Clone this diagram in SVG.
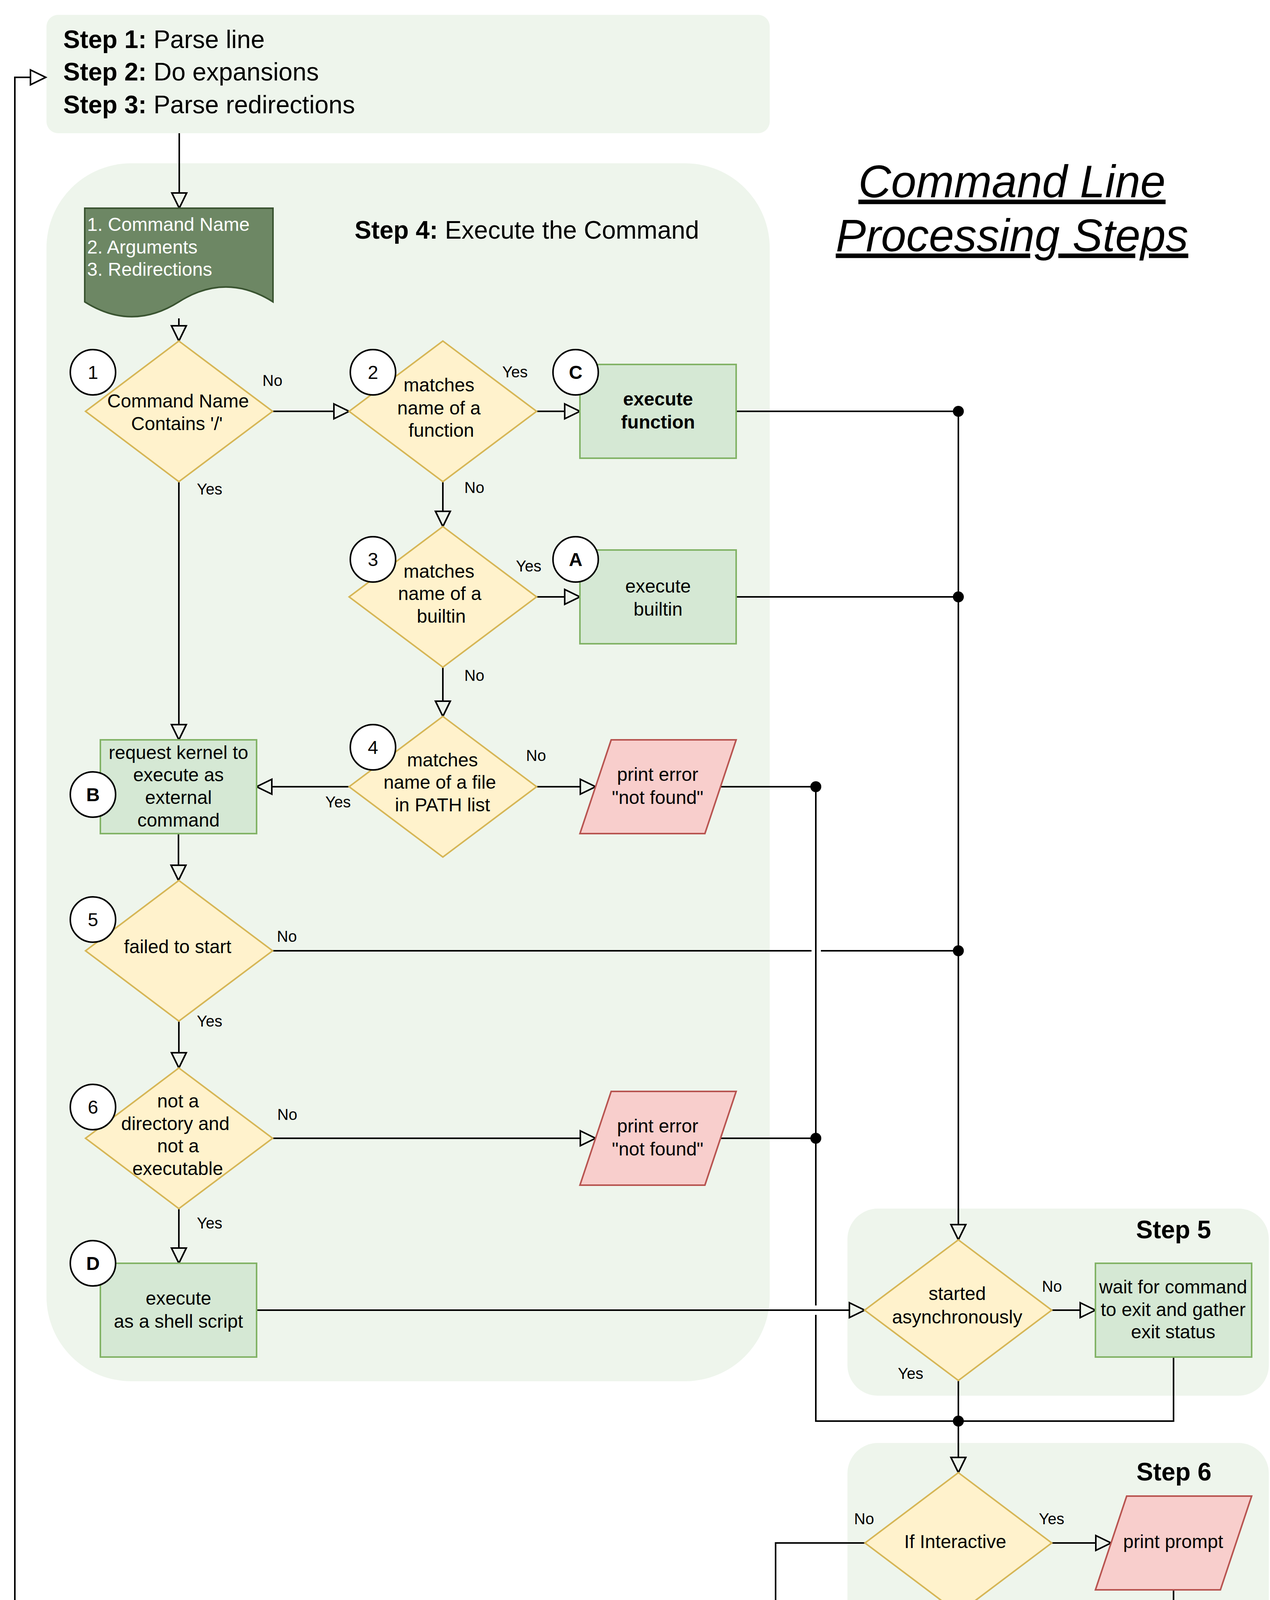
<svg xmlns="http://www.w3.org/2000/svg" width="3252" height="4640" viewBox="0 0 3252 4640">
<style>
text{font-family:"Liberation Sans",Arial,Helvetica,sans-serif;fill:#000}
.n{font-size:48px;text-anchor:middle}
.b{font-weight:bold}
.lbl{font-size:40px}
.step{font-size:64px}
.cont{fill:#eef5ec;stroke:none}
.dia{fill:#fff2cc;stroke:#d6b656;stroke-width:4}
.grn{fill:#d5e8d4;stroke:#82b366;stroke-width:4}
.red{fill:#f8cecc;stroke:#b85450;stroke-width:4}
.cir{fill:#fff;stroke:#000;stroke-width:4}
.e{fill:none;stroke:#000;stroke-width:4}
.ea{fill:none;stroke:#000;stroke-width:4;marker-end:url(#arr)}
.dot{fill:#000}
</style>
<defs>
<marker id="arr" markerUnits="userSpaceOnUse" markerWidth="52" markerHeight="52" viewBox="-4 -26 52 52" refX="0" refY="0" orient="auto">
<path d="M0,-19 L39,0 L0,19 Z" fill="none" stroke="#000" stroke-width="4"/>
</marker>
</defs>
<rect width="3252" height="4640" fill="#fff"/>

<g id="containers">
<rect id="step123" class="cont" x="119" y="38" width="1852" height="303" rx="30" ry="30"/>
<rect id="step4" class="cont" x="119" y="418" width="1852" height="3118" rx="217" ry="217"/>
<rect id="step5" class="cont" x="2170" y="3094" width="1079" height="479" rx="78" ry="78"/>
<rect id="step6" class="cont" x="2170" y="3694" width="1079" height="478" rx="78" ry="78"/>
</g>

<g id="headings">
<text class="step" x="162" y="123"><tspan class="b">Step 1:</tspan> Parse line</text>
<text class="step" x="162" y="206"><tspan class="b">Step 2:</tspan> Do expansions</text>
<text class="step" x="162" y="290"><tspan class="b">Step 3:</tspan> Parse redirections</text>
<text class="step" x="908" y="611"><tspan class="b">Step 4:</tspan> Execute the Command</text>
<text class="step b" x="2909" y="3170">Step 5</text>
<text class="step b" x="2910" y="3790">Step 6</text>
<text x="2198" y="505" font-size="116" font-style="italic" text-decoration="underline">Command Line</text>
<text x="2140" y="643" font-size="116" font-style="italic" text-decoration="underline">Processing Steps</text>
</g>

<g id="connectors">
<path class="ea" d="M459,341 L459,494"/>
<path class="ea" d="M458,815 L458,834"/>
<path class="ea" d="M698,1053 L855,1053"/>
<path class="ea" d="M1373,1053 L1446,1053"/>
<path class="e" d="M1885,1053 L2454,1053"/>
<path class="ea" d="M1134,1233 L1134,1309"/>
<path class="ea" d="M1374,1528 L1446,1528"/>
<path class="e" d="M1885,1528 L2454,1528"/>
<path class="ea" d="M1134,1708 L1134,1795"/>
<path class="ea" d="M894,2014 L696,2014"/>
<path class="ea" d="M458,1233 L458,1855"/>
<path class="ea" d="M1374,2014 L1486,2014"/>
<path class="e" d="M1845,2014 L2089,2014 L2089,3342"/>
<path class="e" d="M2089,3366 L2089,3638 L2454,3638"/>
<path class="ea" d="M457,2134 L457,2215"/>
<path class="e" d="M698,2434 L2078,2434"/>
<path class="e" d="M2102,2434 L2454,2434"/>
<path class="ea" d="M458,2614 L458,2695"/>
<path class="ea" d="M698,2914 L1486,2914"/>
<path class="e" d="M1845,2914 L2089,2914"/>
<path class="ea" d="M458,3094 L458,3195"/>
<path class="ea" d="M657,3354 L2175,3354"/>
<path class="ea" d="M2454,1053 L2454,3135"/>
<path class="ea" d="M2693,3354 L2766,3354"/>
<path class="ea" d="M2454,3534 L2454,3731"/>
<path class="e" d="M3005,3474 L3005,3638 L2454,3638"/>
<path class="ea" d="M2693,3950 L2806,3950"/>
<path class="ea" d="M3005,4070 L3005,4174"/>
<path class="ea" d="M2215,3950 L1986,3950 L1986,4174"/>
<path class="e" d="M2006,4453 L2006,4518 L3005,4518 L3005,4453"/>
<path class="ea" d="M2454,4518 L2454,4597 L38,4597 L38,198 L78,198"/>
<circle class="dot" cx="2454" cy="1053" r="14"/>
<circle class="dot" cx="2454" cy="1528" r="14"/>
<circle class="dot" cx="2454" cy="2434" r="14"/>
<circle class="dot" cx="2089" cy="2014" r="14"/>
<circle class="dot" cx="2089" cy="2914" r="14"/>
<circle class="dot" cx="2454" cy="3638" r="14"/>
<circle class="dot" cx="2454" cy="4518" r="14"/>
</g>

<g id="edge-labels" class="lbl">
<text x="672" y="988">No</text>
<text x="504" y="1266">Yes</text>
<text x="1286" y="966">Yes</text>
<text x="1189" y="1262">No</text>
<text x="1321" y="1463">Yes</text>
<text x="1189" y="1743">No</text>
<text x="1347" y="1948">No</text>
<text x="833" y="2067">Yes</text>
<text x="709" y="2411">No</text>
<text x="504" y="2628">Yes</text>
<text x="710" y="2867">No</text>
<text x="504" y="3145">Yes</text>
<text x="2668" y="3307">No</text>
<text x="2299" y="3530">Yes</text>
<text x="2187" y="3902">No</text>
<text x="2660" y="3902">Yes</text>
</g>

<g id="doc">
<path d="M217,533 L699,533 L699,772.7 Q578.5,696.6 458,772.7 Q337.5,848.8 217,772.7 Z" fill="#6d8764" stroke="#3a5431" stroke-width="4"/>
<text x="223" y="591" font-size="48" style="fill:#fff">1. Command Name</text>
<text x="223" y="649" font-size="48" style="fill:#fff">2. Arguments</text>
<text x="223" y="706" font-size="48" style="fill:#fff">3. Redirections</text>
</g>

<g id="d1">
<polygon class="dia" points="458,873 698,1053 458,1233 219,1053"/>
<text class="n" x="456" y="1043">Command Name</text>
<text class="n" x="453" y="1101">Contains '/'</text>
</g>
<g id="d2">
<polygon class="dia" points="1134,873 1374,1053 1134,1233 894,1053"/>
<text class="n" x="1124" y="1002">matches</text>
<text class="n" x="1124" y="1061">name of a</text>
<text class="n" x="1130" y="1118">function</text>
</g>
<g id="boxC">
<rect class="grn" x="1485" y="933" width="400" height="240"/>
<text class="n b" x="1685" y="1038">execute</text>
<text class="n b" x="1685" y="1097">function</text>
</g>
<g id="d3">
<polygon class="dia" points="1134,1348 1374,1528 1134,1708 894,1528"/>
<text class="n" x="1124" y="1479">matches</text>
<text class="n" x="1126" y="1536">name of a</text>
<text class="n" x="1130" y="1594">builtin</text>
</g>
<g id="boxA">
<rect class="grn" x="1485" y="1408" width="400" height="240"/>
<text class="n" x="1685" y="1517">execute</text>
<text class="n" x="1685" y="1576">builtin</text>
</g>
<g id="d4">
<polygon class="dia" points="1134,1834 1374,2014 1134,2194 894,2014"/>
<text class="n" x="1133" y="1962">matches</text>
<text class="n" x="1126" y="2019">name of a file</text>
<text class="n" x="1133" y="2077">in PATH list</text>
</g>
<g id="boxB">
<rect class="grn" x="257" y="1894" width="400" height="240"/>
<text class="n" x="457" y="1943">request kernel to</text>
<text class="n" x="457" y="2000">execute as</text>
<text class="n" x="457" y="2058">external</text>
<text class="n" x="457" y="2116">command</text>
</g>
<g id="err1">
<polygon class="red" points="1565,1894 1885,1894 1805,2134 1485,2134"/>
<text class="n" x="1684" y="1999">print error</text>
<text class="n" x="1684" y="2058">"not found"</text>
</g>
<g id="d5">
<polygon class="dia" points="458,2254 698,2434 458,2614 219,2434"/>
<text class="n" x="455" y="2440">failed to start</text>
</g>
<g id="d6">
<polygon class="dia" points="458,2734 698,2914 458,3094 219,2914"/>
<text class="n" x="456" y="2835">not a</text>
<text class="n" x="449" y="2893">directory and</text>
<text class="n" x="456" y="2950">not a</text>
<text class="n" x="455" y="3008">executable</text>
</g>
<g id="err2">
<polygon class="red" points="1565,2794 1885,2794 1805,3034 1485,3034"/>
<text class="n" x="1684" y="2899">print error</text>
<text class="n" x="1684" y="2958">"not found"</text>
</g>
<g id="boxD">
<rect class="grn" x="257" y="3234" width="400" height="240"/>
<text class="n" x="457" y="3340">execute</text>
<text class="n" x="457" y="3399">as a shell script</text>
</g>
<g id="dAsync">
<polygon class="dia" points="2454,3174 2693,3354 2454,3534 2214,3354"/>
<text class="n" x="2451" y="3328">started</text>
<text class="n" x="2451" y="3388">asynchronously</text>
</g>
<g id="boxWait">
<rect class="grn" x="2805" y="3234" width="400" height="240"/>
<text class="n" x="3004" y="3311">wait for command</text>
<text class="n" x="3004" y="3369">to exit and gather</text>
<text class="n" x="3004" y="3426">exit status</text>
</g>
<g id="dInteractive">
<polygon class="dia" points="2454,3770 2693,3950 2454,4130 2215,3950"/>
<text class="n" x="2446" y="3963">If Interactive</text>
</g>
<g id="prompt">
<polygon class="red" points="2885,3830 3205,3830 3125,4070 2805,4070"/>
<text class="n" x="3004" y="3963">print prompt</text>
</g>
<g id="readStdin">
<polygon class="red" points="2885,4213 3205,4213 3125,4453 2805,4453"/>
<text class="n" x="2997" y="4263">read next</text>
<text class="n" x="2997" y="4320">line from</text>
<text class="n" x="2997" y="4379">standard</text>
<text class="n" x="3004" y="4435">input</text>
</g>
<g id="readScript">
<polygon class="red" points="1886,4213 2206,4213 2126,4453 1806,4453"/>
<text class="n" x="1997" y="4290">read next</text>
<text class="n" x="2003" y="4346">line from</text>
<text class="n" x="2009" y="4405">script file</text>
</g>

<g id="badges">
<g id="c1"><circle class="cir" cx="238" cy="953" r="58"/><text class="n" x="238" y="970">1</text></g>
<g id="c2"><circle class="cir" cx="955" cy="953" r="58"/><text class="n" x="955" y="970">2</text></g>
<g id="cC"><circle class="cir" cx="1474" cy="953" r="58"/><text class="n b" x="1474" y="970">C</text></g>
<g id="c3"><circle class="cir" cx="955" cy="1432" r="58"/><text class="n" x="955" y="1449">3</text></g>
<g id="cA"><circle class="cir" cx="1474" cy="1432" r="58"/><text class="n b" x="1474" y="1449">A</text></g>
<g id="c4"><circle class="cir" cx="955" cy="1913" r="58"/><text class="n" x="955" y="1930">4</text></g>
<g id="cB"><circle class="cir" cx="238" cy="2034" r="58"/><text class="n b" x="238" y="2051">B</text></g>
<g id="c5"><circle class="cir" cx="238" cy="2354" r="58"/><text class="n" x="238" y="2371">5</text></g>
<g id="c6"><circle class="cir" cx="238" cy="2834" r="58"/><text class="n" x="238" y="2851">6</text></g>
<g id="cD"><circle class="cir" cx="238" cy="3234" r="58"/><text class="n b" x="238" y="3251">D</text></g>
</g>
</svg>
